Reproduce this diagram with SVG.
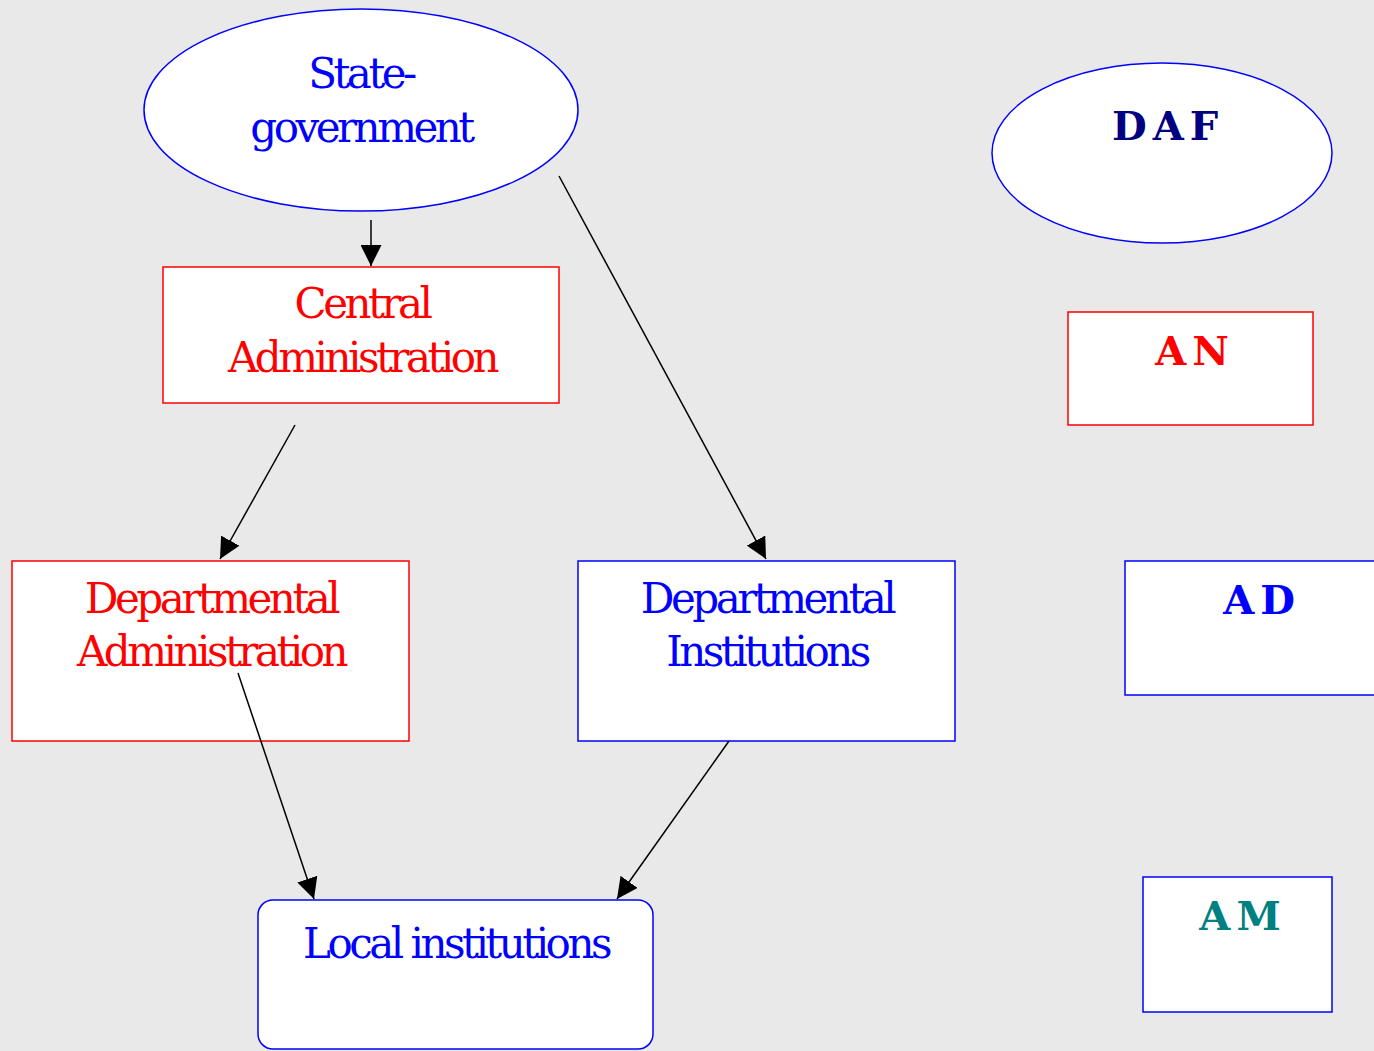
<svg xmlns="http://www.w3.org/2000/svg" width="1374" height="1051" viewBox="0 0 1374 1051">
<style>
.bg{fill:#e9e9e9}
.n{fill:#fff;stroke-width:1.5}
.red{stroke:#f00}
.blue{stroke:#00f}
.t{font-family:"DejaVu Serif","Liberation Serif",serif;font-size:42px;text-anchor:middle;letter-spacing:-3.5px}
.b{font-family:"DejaVu Serif","Liberation Serif",serif;font-size:40px;font-weight:bold;text-anchor:middle;letter-spacing:6px}
.e{stroke:#000;stroke-width:1.5;fill:none;marker-end:url(#ah)}
</style>
<defs>
<marker id="ah" markerWidth="21" markerHeight="21" viewBox="0 0 21 21" refX="21" refY="10.5" orient="auto" markerUnits="userSpaceOnUse">
<path d="M0,0 L21,10.5 L0,21 Z" fill="#000"/>
</marker>
</defs>
<rect class="bg" x="0" y="0" width="1374" height="1051"/>
<g id="state-government">
<ellipse class="n blue" cx="361" cy="110" rx="217" ry="101"/>
<text class="t" x="361" y="88" fill="#00f">State-</text>
<text class="t" x="361" y="142" fill="#00f">government</text>
</g>
<g id="central-administration">
<rect class="n red" x="163" y="267" width="396" height="136"/>
<text class="t" x="362" y="318" fill="#f00">Central</text>
<text class="t" x="362" y="372" fill="#f00">Administration</text>
</g>
<g id="departmental-administration">
<rect class="n red" x="12" y="561" width="397" height="180"/>
<text class="t" x="211" y="613" fill="#f00">Departmental</text>
<text class="t" x="211" y="666" fill="#f00">Administration</text>
</g>
<g id="departmental-institutions">
<rect class="n blue" x="578" y="561" width="377" height="180"/>
<text class="t" x="767" y="613" fill="#00f">Departmental</text>
<text class="t" x="767" y="666" fill="#00f">Institutions</text>
</g>
<g id="local-institutions">
<rect class="n blue" x="258" y="900" width="395" height="149" rx="15"/>
<text class="t" x="456" y="958" fill="#00f">Local institutions</text>
</g>
<g id="daf">
<ellipse class="n blue" cx="1162" cy="153" rx="170" ry="90"/>
<text class="b" x="1168" y="140" fill="#000080">DAF</text>
</g>
<g id="an">
<rect class="n red" x="1068" y="312" width="245" height="113"/>
<text class="b" x="1195" y="365" fill="#f00">AN</text>
</g>
<g id="ad">
<rect class="n blue" x="1125" y="561" width="260" height="134"/>
<text class="b" x="1262" y="614" fill="#00f">AD</text>
</g>
<g id="am">
<rect class="n blue" x="1143" y="877" width="189" height="135"/>
<text class="b" x="1243" y="930" fill="#008080">AM</text>
</g>
<g id="connectors">
<line class="e" x1="371" y1="220" x2="371" y2="266"/>
<line class="e" x1="295" y1="425" x2="220" y2="559"/>
<line class="e" x1="559" y1="176" x2="766" y2="559"/>
<line class="e" x1="238" y1="673" x2="314" y2="899"/>
<line class="e" x1="729" y1="741" x2="617" y2="899"/>
</g>
</svg>
